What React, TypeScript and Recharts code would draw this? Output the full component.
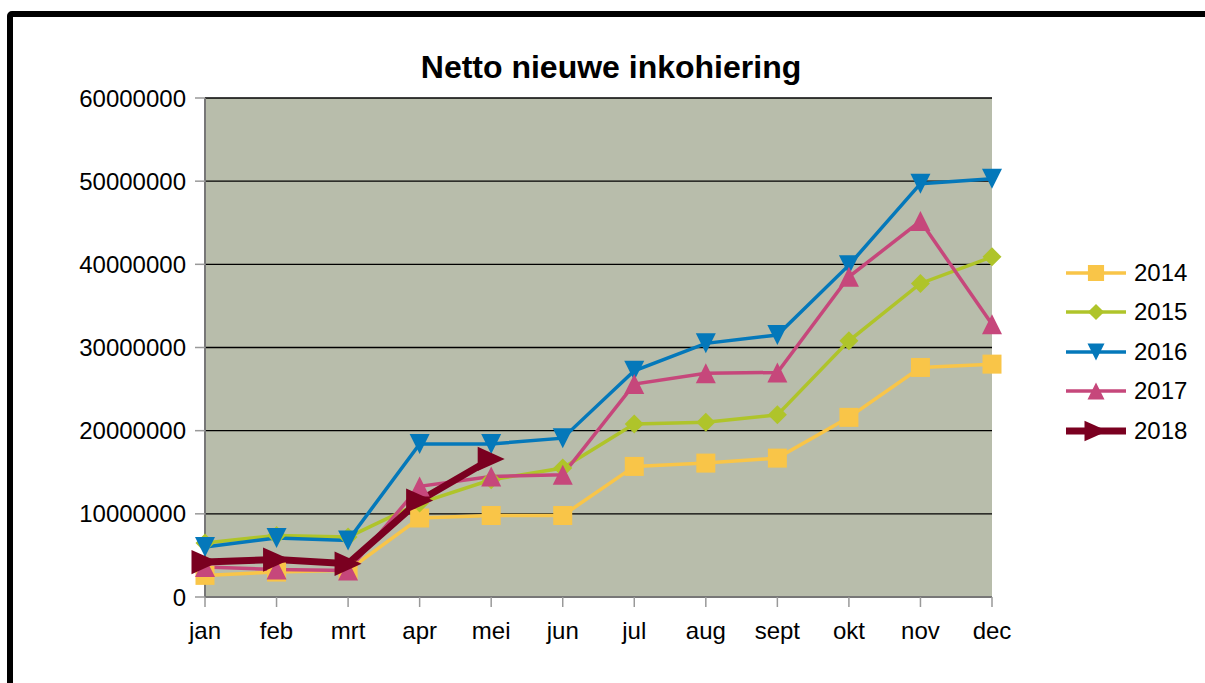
import React from "react";
import { LineChart, Line, XAxis, YAxis, CartesianGrid } from "recharts";

const months = ["jan", "feb", "mrt", "apr", "mei", "jun", "jul", "aug", "sept", "okt", "nov", "dec"];
const s2014 = [2600000, 3000000, 3200000, 9500000, 9800000, 9800000, 15700000, 16100000, 16700000, 21600000, 27600000, 28000000];
const s2015 = [6500000, 7400000, 7200000, 11300000, 14100000, 15500000, 20800000, 21000000, 21900000, 30800000, 37700000, 40900000];
const s2016 = [6000000, 7100000, 6800000, 18400000, 18400000, 19100000, 27200000, 30500000, 31500000, 39900000, 49700000, 50300000];
const s2017 = [3600000, 3300000, 3200000, 13300000, 14500000, 14700000, 25600000, 26900000, 27000000, 38500000, 45200000, 32800000];
const s2018 = [4200000, 4500000, 4000000, 11600000, 16600000, null, null, null, null, null, null, null];
const yTicks = [0, 10000000, 20000000, 30000000, 40000000, 50000000, 60000000];

const data = months.map((m, i) => ({
  month: m,
  y2014: s2014[i],
  y2015: s2015[i],
  y2016: s2016[i],
  y2017: s2017[i],
  y2018: s2018[i],
}));

const COLORS = {
  y2014: "#f9c548",
  y2015: "#afc42a",
  y2016: "#0478ba",
  y2017: "#c6477b",
  y2018: "#7a0020",
};

type Shape = "square" | "diamond" | "down" | "up" | "right";

function markerPath(shape: Shape, cx: number, cy: number, s: number): string {
  const h = s / 2;
  switch (shape) {
    case "square":
      return `M${cx - h},${cy - h}h${s}v${s}h${-s}Z`;
    case "diamond":
      return `M${cx},${cy - h}L${cx + h},${cy}L${cx},${cy + h}L${cx - h},${cy}Z`;
    case "down":
      return `M${cx - h},${cy - h}L${cx + h},${cy - h}L${cx},${cy + h}Z`;
    case "up":
      return `M${cx - h},${cy + h}L${cx + h},${cy + h}L${cx},${cy - h}Z`;
    case "right":
      return `M${cx - h},${cy - h * 0.9}L${cx + h},${cy}L${cx - h},${cy + h * 0.9}Z`;
  }
}

const SERIES: { key: keyof typeof COLORS; name: string; shape: Shape; size: number; width: number }[] = [
  { key: "y2014", name: "2014", shape: "square", size: 19, width: 3.5 },
  { key: "y2015", name: "2015", shape: "diamond", size: 19, width: 3.5 },
  { key: "y2016", name: "2016", shape: "down", size: 20, width: 3.5 },
  { key: "y2017", name: "2017", shape: "up", size: 20, width: 3.5 },
  { key: "y2018", name: "2018", shape: "right", size: 27, width: 7 },
];

const makeDot = (shape: Shape, size: number, color: string) => (props: any) => {
  const { cx, cy, index, value } = props;
  if (cx == null || cy == null || value == null) return <g key={`d-${index}`} />;
  return <path key={`d-${index}`} d={markerPath(shape, cx, cy, size)} fill={color} />;
};

const LegendBlock = () => (
  <div
    style={{
      position: "absolute",
      left: 1062,
      top: 253,
      width: 140,
      fontFamily: "'Liberation Sans', Arial, sans-serif",
      fontSize: 24,
    }}
  >
    {SERIES.map((s) => (
      <div key={s.key} style={{ display: "flex", alignItems: "center", height: 39.5 }}>
        <svg width={68} height={30} style={{ display: "block" }}>
          <line x1={4} x2={64} y1={15} y2={15} stroke={COLORS[s.key]} strokeWidth={s.width} />
          <path d={markerPath(s.shape, 34, 15, s.size * 0.85)} fill={COLORS[s.key]} />
        </svg>
        <span style={{ marginLeft: 4, color: "#000" }}>{s.name}</span>
      </div>
    ))}
  </div>
);

export default function App() {
  return (
    <div style={{ position: "absolute", left: 0, top: 0, width: 1205, height: 683, overflow: "hidden", background: "#fff" }}>
      <div
        style={{
          position: "absolute",
          left: 7,
          top: 11,
          width: 1400,
          height: 900,
          border: "6px solid #000",
          borderRadius: 5,
          boxSizing: "border-box",
        }}
      />
      <div
        style={{
          position: "absolute",
          left: 0,
          width: 1222,
          top: 49,
          textAlign: "center",
          fontFamily: "'Liberation Sans', Arial, sans-serif",
          fontWeight: "bold",
          fontSize: 32,
          color: "#000",
        }}
      >
        Netto nieuwe inkohiering
      </div>
      <div style={{ position: "absolute", left: 0, top: 0 }}>
        <LineChart
          width={1205}
          height={683}
          data={data}
          margin={{ top: 98, right: 213, bottom: 46, left: 85 }}
        >
          <CartesianGrid
            yAxisId="left"
            vertical={false}
            horizontal={true}
            stroke="#000"
            strokeWidth={1.3}
            fill="#b8bdab"
            fillOpacity={1}
          />
          <XAxis
            dataKey="month"
            axisLine={{ stroke: "#777", strokeWidth: 2 }}
            tickLine={{ stroke: "#999", strokeWidth: 1.5 }}
            tickSize={10}
            height={40}
            interval={0}
            tick={{ fill: "#000", fontSize: 24, fontFamily: "'Liberation Sans', Arial, sans-serif", dy: 13 }}
          />
          <YAxis
            yAxisId="left"
            domain={[0, 60000000]}
            ticks={yTicks}
            interval={0}
            width={120}
            axisLine={{ stroke: "#777", strokeWidth: 2 }}
            tickLine={{ stroke: "#999", strokeWidth: 1.5 }}
            tickSize={10}
            tickMargin={9}
            tick={{ fill: "#000", fontSize: 24, fontFamily: "'Liberation Sans', Arial, sans-serif" }}
          />
          <YAxis
            yAxisId="right"
            orientation="right"
            domain={[0, 60000000]}
            width={0}
            tick={false}
            tickLine={false}
            axisLine={{ stroke: "#666", strokeWidth: 2 }}
          />
          {SERIES.map((s) => (
            <Line
              key={s.key}
              yAxisId="left"
              type="linear"
              dataKey={s.key}
              name={s.name}
              stroke={COLORS[s.key]}
              strokeWidth={s.width}
              dot={makeDot(s.shape, s.size, COLORS[s.key])}
              activeDot={false}
              connectNulls={false}
              isAnimationActive={false}
            />
          ))}
        </LineChart>
      </div>
      <LegendBlock />
    </div>
  );
}
